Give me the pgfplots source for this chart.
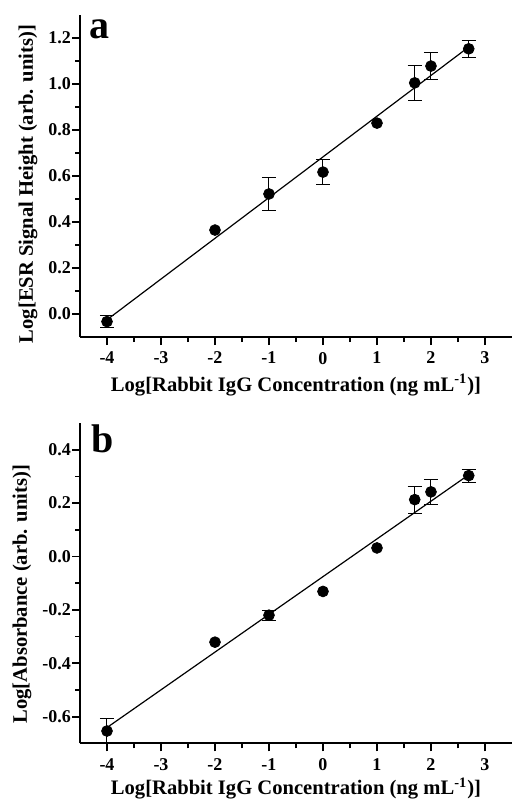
\documentclass[border=0pt]{standalone}
\usepackage{fontspec}
\setmainfont{Liberation Serif}
\usepackage{pgfplots}
\pgfplotsset{compat=1.18}

\pgfplotsset{
  panel/.style={
    scale only axis, width=216pt,
    xmin=-4.5, xmax=3.5,
    axis lines=left, axis line style={-, line width=0.9pt},
    tick align=outside, major tick length=4pt, minor tick length=2.5pt,
    every tick/.style={black, line width=0.9pt},
    xtick={-4,...,3}, minor x tick num=1, minor y tick num=1,
    ticklabel style={font=\bfseries\fontsize{9}{10}\selectfont},
    /pgf/number format/assume math mode=true,
    y tick label style={xshift=3pt, /pgf/number format/.cd, fixed, fixed zerofill, precision=1, /tikz/.cd},
    label style={font=\bfseries\fontsize{10.3}{12}\selectfont},
    xlabel={Log[Rabbit IgG Concentration (ng mL\textsuperscript{-1})]},
    clip=false,
  },
  ebars/.style={only marks, mark=none,
    error bars/.cd, y dir=both, y explicit,
    error bar style={line width=0.5pt},
    error mark options={rotate=90, mark size=3.5pt, line width=0.5pt}},
  dots/.style={only marks, mark=*, mark size=2.7pt, black},
  fit/.style={no marks, black, line width=0.6pt},
}

\begin{document}
\begin{tikzpicture}
\useasboundingbox (0,0) rectangle (256pt,-399.5pt);

% panel a
\begin{axis}[panel, at={(40pt,-168.5pt)}, anchor=south west, height=161pt,
  ymin=-0.1, ymax=1.3, ytick={0,0.2,...,1.2},
  ylabel={Log[ESR Signal Height (arb. units)]},
  ylabel style={at={(rel axis cs:0,0.5)}, anchor=center, yshift=26pt, xshift=-4pt},
  xlabel style={at={(rel axis cs:0.5,0)}, anchor=center, yshift=-24pt}]
  \addplot[fit] coordinates {(-4,-0.025) (2.699,1.161)};
  \addplot[ebars] coordinates {
    (-4,-0.033) +- (0,0.027)
    (-1,0.522) +- (0,0.071)
    (0,0.617) +- (0,0.053)
    (1.699,1.005) +- (0,0.075)
    (2,1.078) +- (0,0.060)
    (2.699,1.153) +- (0,0.038)};
  \addplot[dots] coordinates {(-4,-0.033) (-2,0.365) (-1,0.522) (0,0.617)
    (1,0.830) (1.699,1.005) (2,1.078) (2.699,1.153)};
  \node[font=\bfseries\fontsize{20}{20}\selectfont] at (rel axis cs:0.046,0.955) {a};
\end{axis}

% panel b
\begin{axis}[panel, at={(40pt,-371.65pt)}, anchor=south west, height=160.15pt,
  ymin=-0.7, ymax=0.5, ytick={-0.6,-0.4,...,0.4},
  ylabel={Log[Absorbance (arb. units)]},
  ylabel style={at={(rel axis cs:0,0.5)}, anchor=center, yshift=29pt, xshift=-5.5pt},
  xlabel style={at={(rel axis cs:0.5,0)}, anchor=center, yshift=-22.5pt}]
  \addplot[fit] coordinates {(-4,-0.641) (2.699,0.306)};
  \addplot[ebars] coordinates {
    (-4,-0.654) +- (0,0.047)
    (-1,-0.220) +- (0,0.019)
    (1.699,0.213) +- (0,0.051)
    (2,0.242) +- (0,0.048)
    (2.699,0.303) +- (0,0.024)};
  \addplot[dots] coordinates {(-4,-0.654) (-2,-0.321) (-1,-0.220) (0,-0.131)
    (1,0.032) (1.699,0.213) (2,0.242) (2.699,0.303)};
  \node[font=\bfseries\fontsize{20}{20}\selectfont] at (rel axis cs:0.053,0.95) {b};
\end{axis}
\end{tikzpicture}
\end{document}
